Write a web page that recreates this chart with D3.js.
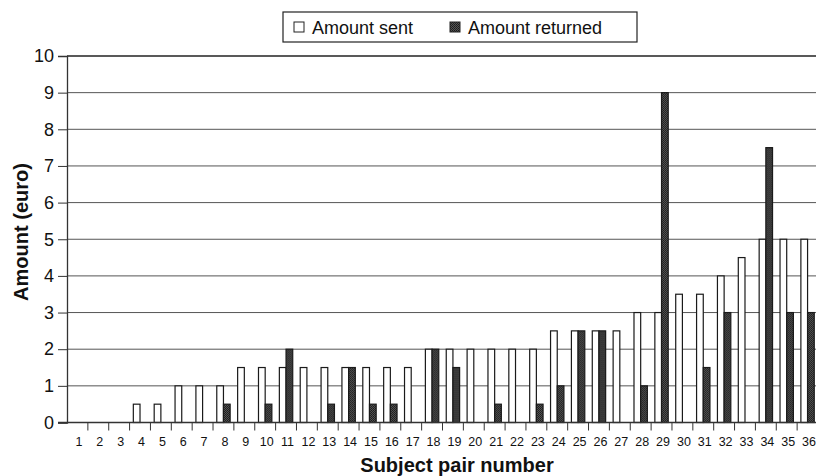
<!DOCTYPE html>
<html>
<head>
<meta charset="utf-8">
<script src="https://cdn.jsdelivr.net/npm/d3@7"></script>
<style>
  body { margin: 0; background: #fff; }
  text { font-family: "Liberation Sans", Arial, sans-serif; fill: #111; }
</style>
</head>
<body>
<svg id="chart" width="816" height="476"></svg>
<script>
// data
const pairs = d3.range(1, 37).map(String);
const amountSent = [0, 0, 0, 0.5, 0.5, 1, 1, 1, 1.5, 1.5, 1.5, 1.5, 1.5, 1.5, 1.5, 1.5, 1.5, 2,
  2, 2, 2, 2, 2, 2.5, 2.5, 2.5, 2.5, 3, 3, 3.5, 3.5, 4, 4.5, 5, 5, 5];
const amountReturned = [0, 0, 0, 0, 0, 0, 0, 0.5, 0, 0.5, 2, 0, 0.5, 1.5, 0.5, 0.5, 0, 2,
  1.5, 0, 0.5, 0, 0.5, 1, 2.5, 2.5, 0, 1, 9, 0, 1.5, 3, 0, 7.5, 3, 3];
const yTicks = d3.range(0, 11);
const seriesKeys = ['sent', 'returned'];
const seriesLabels = ['Amount sent', 'Amount returned'];

const svg = d3.select('#chart');

const plotLeft = 67, plotRight = 818, plotTop = 56, plotBottom = 422.5;

const x = d3.scaleBand().domain(pairs).range([plotLeft, plotRight]).padding(0);
const x1 = d3.scaleBand().domain(seriesKeys).range([0, x.bandwidth()])
  .paddingInner(0).paddingOuter(0.56);
const y = d3.scaleLinear().domain([0, 10]).range([plotBottom, plotTop]);

// stipple pattern for the dark bars
const defs = svg.append('defs');
const pat = defs.append('pattern')
  .attr('id', 'dark').attr('width', 2).attr('height', 2)
  .attr('patternUnits', 'userSpaceOnUse');
pat.append('rect').attr('width', 2).attr('height', 2).attr('fill', '#555');
pat.append('rect').attr('width', 1).attr('height', 1).attr('fill', '#1a1a1a');
pat.append('rect').attr('x', 1).attr('y', 1).attr('width', 1).attr('height', 1).attr('fill', '#222');

// gridlines
svg.append('g')
  .selectAll('line')
  .data(yTicks.filter(d => d > 0))
  .enter()
  .append('line')
  .attr('x1', plotLeft)
  .attr('x2', 816)
  .attr('y1', d => y(d))
  .attr('y2', d => y(d))
  .attr('stroke', d => d === 10 ? '#222' : '#555')
  .attr('stroke-width', d => d === 10 ? 1.3 : 1);

// y axis
const yAxis = svg.append('g')
  .attr('transform', `translate(${plotLeft},0)`)
  .call(d3.axisLeft(y).tickValues(yTicks).tickSize(9).tickPadding(4).tickFormat(d3.format('d')));
yAxis.select('.domain').attr('stroke', '#333').attr('stroke-width', 1.3);
yAxis.selectAll('.tick line').attr('stroke', '#333');
yAxis.selectAll('.tick text')
  .attr('font-size', '18px')
  .attr('fill', '#111')
  .style('font-family', '"Liberation Sans", Arial, sans-serif');

// bars
const rows = pairs.map((p, i) => ({ pair: p, sent: amountSent[i], returned: amountReturned[i] }));

const groups = svg.append('g')
  .selectAll('g')
  .data(rows)
  .enter()
  .append('g')
  .attr('transform', d => `translate(${x(d.pair)},0)`);

groups.selectAll('rect')
  .data(d => seriesKeys.map(k => ({ key: k, value: d[k] })).filter(v => v.value > 0))
  .enter()
  .append('rect')
  .attr('x', d => x1(d.key))
  .attr('y', d => y(d.value))
  .attr('width', x1.bandwidth())
  .attr('height', d => y(0) - y(d.value))
  .attr('fill', d => d.key === 'sent' ? '#fff' : 'url(#dark)')
  .attr('stroke', '#1a1a1a')
  .attr('stroke-width', 1.2);

// x axis line + boundary ticks
svg.append('line')
  .attr('x1', 58).attr('x2', 816)
  .attr('y1', y(0)).attr('y2', y(0))
  .attr('stroke', '#333').attr('stroke-width', 1.3);

svg.append('g')
  .selectAll('line')
  .data(pairs.slice(1))
  .enter()
  .append('line')
  .attr('x1', d => x(d))
  .attr('x2', d => x(d))
  .attr('y1', y(0))
  .attr('y2', y(0) + 8)
  .attr('stroke', '#333');

svg.append('g')
  .selectAll('text')
  .data(pairs)
  .enter()
  .append('text')
  .attr('x', d => x(d) + x.bandwidth() / 2 + 1.5)
  .attr('y', 446)
  .attr('text-anchor', 'middle')
  .attr('font-size', '12.5px')
  .text(d => d);

// axis titles
svg.append('text')
  .attr('x', 457)
  .attr('y', 472)
  .attr('text-anchor', 'middle')
  .attr('font-size', '20px')
  .attr('font-weight', 'bold')
  .text('Subject pair number');

svg.append('text')
  .attr('transform', 'translate(28,232) rotate(-90)')
  .attr('text-anchor', 'middle')
  .attr('font-size', '20px')
  .attr('font-weight', 'bold')
  .text('Amount (euro)');

// legend
const legend = svg.append('g');
legend.append('rect')
  .attr('x', 283).attr('y', 12)
  .attr('width', 354).attr('height', 30)
  .attr('fill', '#fff')
  .attr('stroke', '#222')
  .attr('stroke-width', 1.2);

const legendX = [294, 450];
const items = legend.selectAll('.legend-item')
  .data(seriesKeys)
  .enter()
  .append('g')
  .attr('class', 'legend-item')
  .attr('transform', (d, i) => `translate(${legendX[i]},22)`);

items.append('rect')
  .attr('width', 10).attr('height', 10)
  .attr('fill', d => d === 'sent' ? '#fff' : 'url(#dark)')
  .attr('stroke', '#222');

items.append('text')
  .attr('x', 18)
  .attr('y', 12)
  .attr('font-size', '18px')
  .text((d, i) => seriesLabels[i]);
</script>
</body>
</html>
